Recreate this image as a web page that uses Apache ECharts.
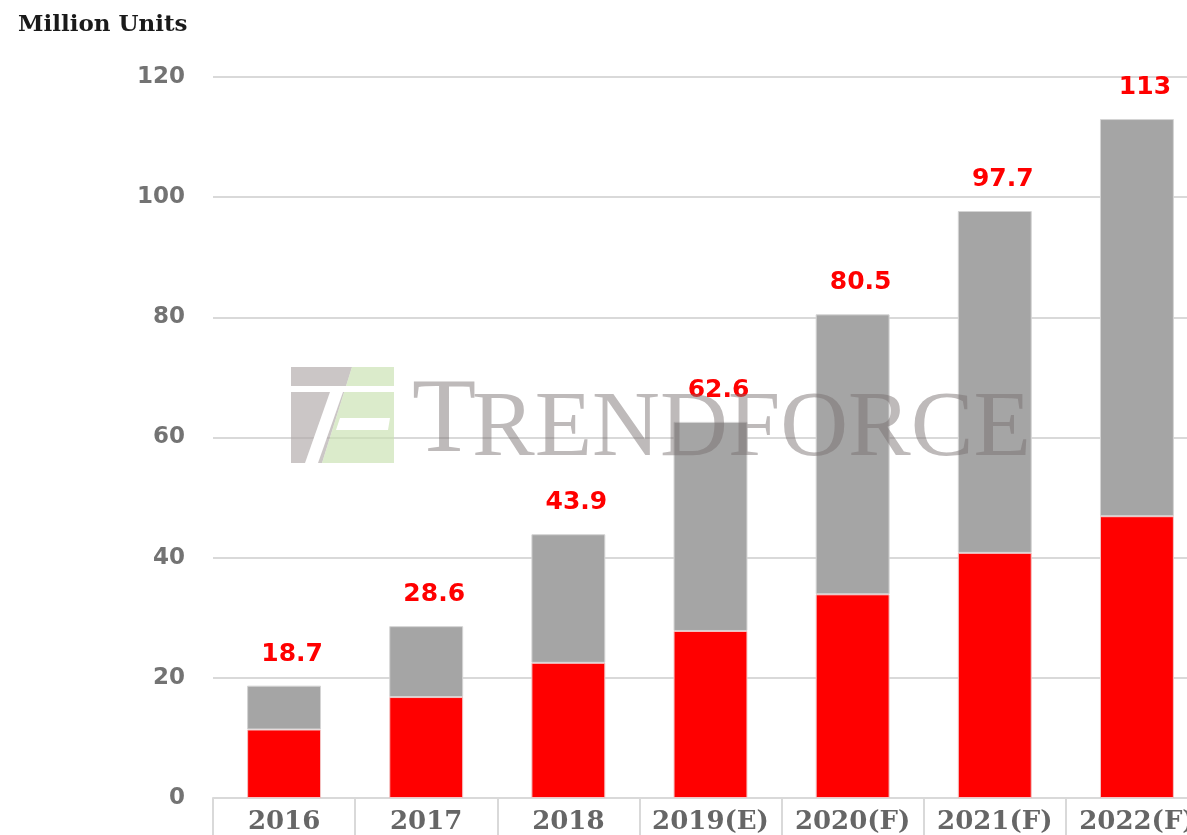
<!DOCTYPE html>
<html>
<head>
<meta charset="utf-8">
<script src="https://cdn.jsdelivr.net/npm/echarts@6/dist/echarts.min.js"></script>
<style>
html,body{margin:0;padding:0;background:#fff;overflow:hidden;}
#main{width:1215px;height:835px;}
</style>
</head>
<body>
<div id="main"></div>
<script>
var years = ['2016', '2017', '2018', '2019(E)', '2020(F)', '2021(F)', '2022(F)'];
var totals = [18.7, 28.6, 43.9, 62.6, 80.5, 97.7, 113];
var redPart = [11.4, 16.8, 22.5, 27.8, 33.9, 40.8, 46.9];
var grayPart = [7.3, 11.8, 21.4, 34.8, 46.6, 56.9, 66.1];
var yTicks = [0, 20, 40, 60, 80, 100, 120];

var chart = echarts.init(document.getElementById('main'));

var option = {
    backgroundColor: '#fff',
    animation: false,
    title: {
        text: 'Million Units',
        left: 13,
        top: 9,
        textStyle: {fontFamily: 'DejaVu Serif', fontWeight: 'bold', fontSize: 23, color: '#1a1a1a'}
    },
    grid: {left: 213, top: 77, right: 7, bottom: 36},
    xAxis: {
        type: 'category',
        data: years,
        axisLine: {lineStyle: {color: '#d9d9d9', width: 2}},
        axisTick: {show: true, length: 40, lineStyle: {color: '#d9d9d9', width: 2}},
        axisLabel: {
            interval: 0,
            margin: 11,
            fontFamily: 'DejaVu Serif',
            fontWeight: 'bold',
            fontSize: 26,
            color: '#666'
        }
    },
    yAxis: {
        type: 'value',
        min: yTicks[0],
        max: yTicks[yTicks.length - 1],
        interval: 20,
        axisLine: {show: false},
        axisTick: {show: false},
        splitLine: {lineStyle: {color: '#d9d9d9', width: 2}},
        axisLabel: {
            margin: 28,
            fontFamily: 'DejaVu Sans',
            fontWeight: 'bold',
            fontSize: 23,
            color: '#737373'
        }
    },
    series: [
        {
            name: 'red',
            type: 'bar',
            stack: 'total',
            barWidth: '52%',
            data: redPart,
            itemStyle: {color: '#ff0000', borderColor: '#f3c4c4', borderWidth: 1}
        },
        {
            name: 'gray',
            type: 'bar',
            stack: 'total',
            data: grayPart,
            itemStyle: {color: '#a5a5a5', borderColor: '#d4d4d4', borderWidth: 1},
            label: {
                show: true,
                position: 'top',
                distance: 19,
                offset: [8, 0],
                color: '#ff0000',
                fontFamily: 'DejaVu Sans',
                fontWeight: 'bold',
                fontSize: 25,
                formatter: function (p) { return totals[p.dataIndex]; }
            }
        }
    ],
    graphic: [
        // watermark logo
        {type: 'polygon', z: 100, silent: true,
            shape: {points: [[291, 367], [352, 367], [322, 463], [291, 463]]},
            style: {fill: 'rgba(175,168,168,0.65)'}},
        {type: 'polygon', z: 100, silent: true,
            shape: {points: [[352, 367], [394, 367], [394, 463], [322, 463]]},
            style: {fill: 'rgba(200,225,175,0.65)'}},
        {type: 'rect', z: 101, silent: true,
            shape: {x: 288, y: 386, width: 110, height: 6},
            style: {fill: '#fff'}},
        {type: 'polygon', z: 101, silent: true,
            shape: {points: [[330, 392], [343, 392], [318, 463], [305, 463]]},
            style: {fill: '#fff'}},
        {type: 'polygon', z: 101, silent: true,
            shape: {points: [[340, 418], [390, 418], [388, 430], [336, 430]]},
            style: {fill: '#fff'}},
        // watermark text
        {type: 'text', z: 100, silent: true, left: 412, top: 371,
            style: {text: 'T', font: '105px "Liberation Serif"', fill: 'rgba(120,110,110,0.48)'}},
        {type: 'text', z: 100, silent: true, left: 472, top: 383,
            style: {text: 'RENDFORCE', font: '94px "Liberation Serif"', fill: 'rgba(120,110,110,0.48)'}}
    ]
};

chart.setOption(option);
</script>
</body>
</html>
